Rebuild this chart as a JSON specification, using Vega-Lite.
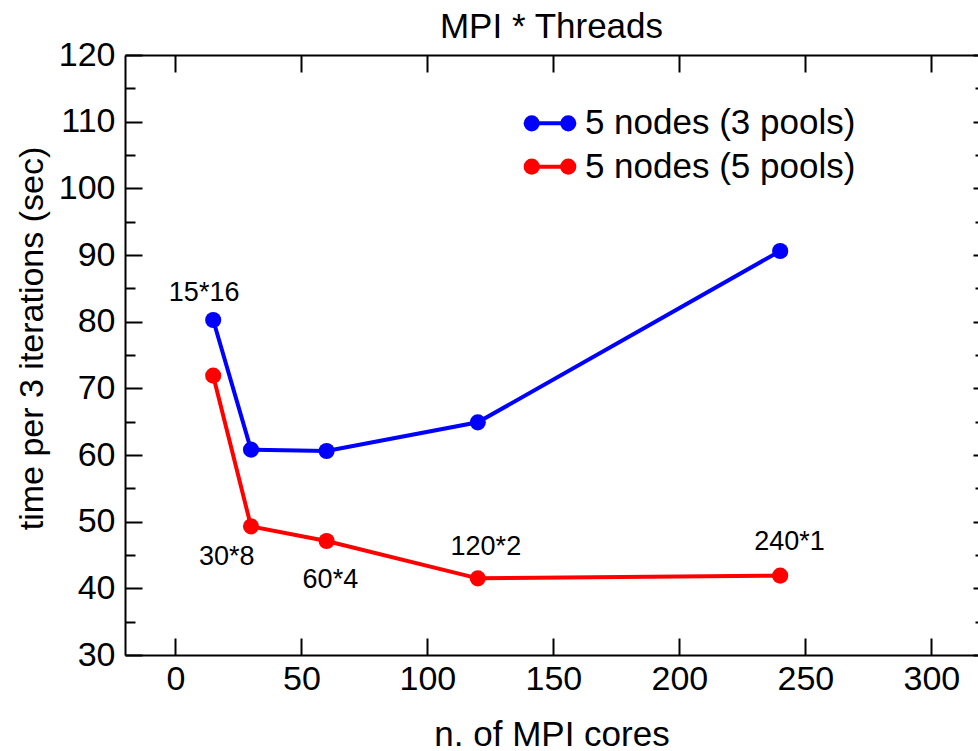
{
  "$schema": "https://vega.github.io/schema/vega-lite/v6.json",
  "width": 853,
  "height": 600,
  "autosize": {"type": "none"},
  "padding": {"left": 125, "top": 55, "right": 0, "bottom": 96},
  "background": "white",
  "view": {"stroke": null},
  "config": {
    "font": "Liberation Sans",
    "axis": {"domainColor": "black", "domainWidth": 2, "tickColor": "black", "tickWidth": 2, "labelColor": "black", "titleColor": "black", "labelFont": "Liberation Sans", "titleFont": "Liberation Sans", "labelFontSize": 34, "titleFontSize": 34, "titleFontWeight": "normal", "grid": false}
  },
  "title": {"text": "MPI * Threads", "fontSize": 35, "fontWeight": "normal", "font": "Liberation Sans", "color": "black", "baseline": "alphabetic", "offset": 17, "dy": 52},
  "datasets": {
    "series": [
      {"series": "5 nodes (3 pools)", "cores": 15, "time": 80.25},
      {"series": "5 nodes (3 pools)", "cores": 30, "time": 60.8},
      {"series": "5 nodes (3 pools)", "cores": 60, "time": 60.6},
      {"series": "5 nodes (3 pools)", "cores": 120, "time": 64.9},
      {"series": "5 nodes (3 pools)", "cores": 240, "time": 90.6},
      {"series": "5 nodes (5 pools)", "cores": 15, "time": 71.9},
      {"series": "5 nodes (5 pools)", "cores": 30, "time": 49.3},
      {"series": "5 nodes (5 pools)", "cores": 60, "time": 47.1},
      {"series": "5 nodes (5 pools)", "cores": 120, "time": 41.5},
      {"series": "5 nodes (5 pools)", "cores": 240, "time": 41.9}
    ],
    "labels": [
      {"text": "15*16", "x": 11.4, "y": 84.25},
      {"text": "30*8", "x": 20.35, "y": 44.75},
      {"text": "60*4", "x": 61.5, "y": 41.25},
      {"text": "120*2", "x": 123.2, "y": 46.25},
      {"text": "240*1", "x": 243.7, "y": 47.0}
    ],
    "legendLine": [
      {"series": "5 nodes (3 pools)", "x": 141.4, "y": 109.75},
      {"series": "5 nodes (3 pools)", "x": 155.9, "y": 109.75},
      {"series": "5 nodes (5 pools)", "x": 141.4, "y": 103.25},
      {"series": "5 nodes (5 pools)", "x": 155.9, "y": 103.25}
    ],
    "legendText": [
      {"series": "5 nodes (3 pools)", "x": 162.5, "y": 109.75},
      {"series": "5 nodes (5 pools)", "x": 162.5, "y": 103.25}
    ]
  },
  "resolve": {"axis": {"x": "independent", "y": "independent"}},
  "layer": [
    {
      "data": {"name": "series"},
      "mark": {"type": "line", "strokeWidth": 4},
      "encoding": {
        "x": {"field": "cores", "type": "quantitative", "scale": {"domain": [-20, 318.5], "nice": false, "zero": false},
          "axis": {"orient": "bottom", "values": [0, 50, 100, 150, 200, 250, 300], "tickSize": -17, "labelPadding": 24, "title": "n. of MPI cores", "titleFontSize": 35, "titlePadding": 21, "labelFlush": false, "labelOverlap": false}},
        "y": {"field": "time", "type": "quantitative", "scale": {"domain": [30, 120], "nice": false, "zero": false},
          "axis": {"orient": "left", "values": [30, 40, 50, 60, 70, 80, 90, 100, 110, 120], "tickSize": -17, "labelPadding": 27, "title": "time per 3 iterations (sec)", "titlePadding": 9, "titleY": 283, "labelFlush": false, "labelOverlap": false}},
        "color": {"field": "series", "type": "nominal", "scale": {"domain": ["5 nodes (3 pools)", "5 nodes (5 pools)"], "range": ["#0000ff", "#ff0000"]}, "legend": null}
      }
    },
    {
      "data": {"name": "series"},
      "mark": {"type": "point", "filled": true, "opacity": 1, "size": 260},
      "encoding": {
        "x": {"field": "cores", "type": "quantitative",
          "axis": {"orient": "top", "values": [0, 50, 100, 150, 200, 250, 300], "tickSize": -17, "labels": false, "title": null}},
        "y": {"field": "time", "type": "quantitative",
          "axis": {"orient": "left", "values": [35, 45, 55, 65, 75, 85, 95, 105, 115], "tickSize": -10, "labels": false, "domain": false, "title": null}},
        "color": {"field": "series", "type": "nominal", "legend": null}
      }
    },
    {
      "data": {"name": "labels"},
      "mark": {"type": "text", "fontSize": 27, "font": "Liberation Sans", "color": "black", "align": "center", "baseline": "middle"},
      "encoding": {
        "x": {"field": "x", "type": "quantitative", "axis": null},
        "y": {"field": "y", "type": "quantitative",
          "axis": {"orient": "right", "values": [30, 40, 50, 60, 70, 80, 90, 100, 110, 120], "tickSize": -5, "labels": false, "domain": false, "title": null}},
        "text": {"field": "text"}
      }
    },
    {
      "data": {"name": "legendLine"},
      "mark": {"type": "line", "strokeWidth": 4},
      "encoding": {
        "x": {"field": "x", "type": "quantitative", "axis": null},
        "y": {"field": "y", "type": "quantitative",
          "axis": {"orient": "right", "values": [35, 45, 55, 65, 75, 85, 95, 105, 115], "tickSize": -3, "labels": false, "domain": false, "title": null}},
        "color": {"field": "series", "type": "nominal", "legend": null}
      }
    },
    {
      "data": {"name": "legendLine"},
      "mark": {"type": "point", "filled": true, "opacity": 1, "size": 260},
      "encoding": {
        "x": {"field": "x", "type": "quantitative", "axis": null},
        "y": {"field": "y", "type": "quantitative", "axis": null},
        "color": {"field": "series", "type": "nominal", "legend": null}
      }
    },
    {
      "data": {"name": "legendText"},
      "mark": {"type": "text", "fontSize": 35, "font": "Liberation Sans", "color": "black", "align": "left", "baseline": "middle"},
      "encoding": {
        "x": {"field": "x", "type": "quantitative", "axis": null},
        "y": {"field": "y", "type": "quantitative", "axis": null},
        "text": {"field": "series"}
      }
    }
  ]
}
